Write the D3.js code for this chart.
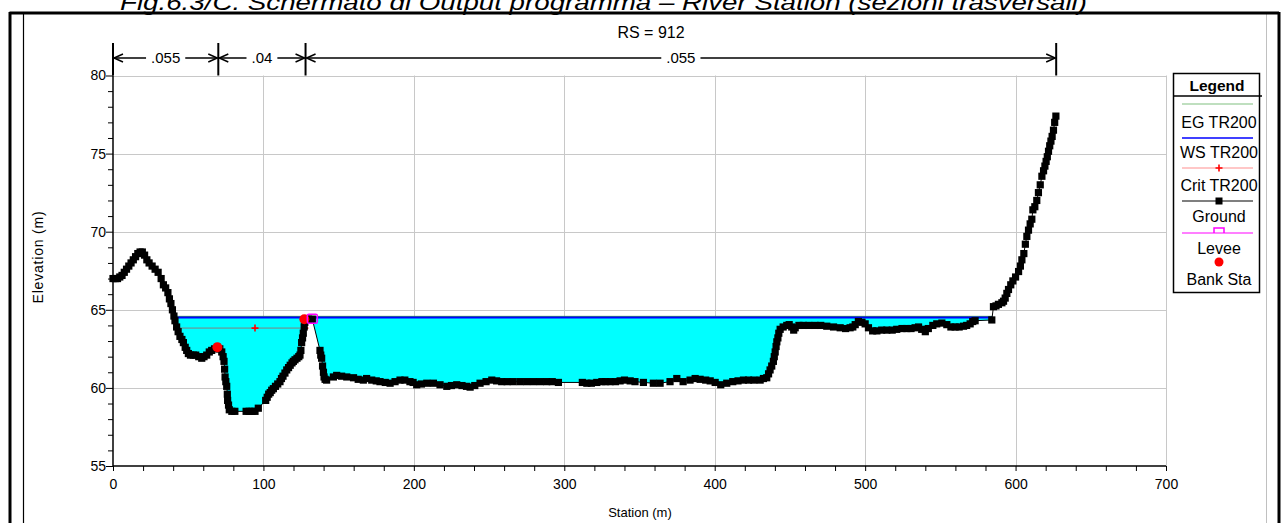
<!DOCTYPE html>
<html><head><meta charset="utf-8">
<script src="https://cdn.jsdelivr.net/npm/d3@7"></script>
<style>
html,body{margin:0;padding:0;background:#fff;}
svg text{font-family:"Liberation Sans",Arial,sans-serif;}
</style></head>
<body>
<svg id="c" width="1283" height="523"></svg>
<script>
// ---- data ----
const groundStation = [0,1.5,3,4.5,6,7.5,9,10.5,12,13.5,15,16.5,18,19.5,21,22.5,24,26,28,30,32,33.5,35,36.5,37.5,38.5,39.5,40.5,41.2,42.3,43.3,44.5,45.8,46.8,48,49,50.1,51.5,53.4,55,57,59,60.5,62.3,64,65.6,67.5,69.4,71,72.3,73.2,73.8,74.2,74.5,75,75.6,76,76.2,76.8,77.3,79,81,88.5,90.5,92.5,94.4,96.6,101.5,102.5,103.5,104.5,105.5,106.6,108,109.5,111,112,113,114.3,115.5,116.7,117.8,119,119.9,121,122.3,123.5,124.3,124.9,125.4,126,126.5,127.1,127.5,128,130,132.5,137.6,138.1,138.7,139.3,139.9,140.3,141,142,146.5,148.7,152,155.4,159.9,163,166.4,168.6,172,175,177.5,181,184.2,187.5,190.8,194,197.4,199.5,201.9,205,208.6,213,217.4,221.9,225,228.5,232,235,237.4,240.5,244,248,251.8,255,258.4,262,266,270.6,275,279.5,284,288.3,292,296.1,312,315,318,321.6,325,327.5,330.5,334,337.1,340,343.8,347,352.6,359.2,363.7,370.3,374.8,379,383.6,387,390.3,394,397,400.3,404,408,412,415.5,419.1,422.5,426,430.2,432.4,434.6,435.8,436.8,437.9,439,439.6,440.2,440.8,441.3,442,442.6,443.5,445.5,447.9,449.5,451.2,452.5,453.5,456,458.9,462.5,466.7,470.5,474.5,479,483.4,487,490,491.8,493.4,495.5,497.9,500,502.2,505,507.8,511,514.4,518,521,524.5,527.7,530.5,533.2,535.5,537.6,540,542,545,547.6,551,554.3,557,559.8,562.5,565.4,567.5,569.8,571.5,573.1,584.2,585.3,587,588.6,590.9,592,593.1,594.2,595.3,596.8,598.2,600,602,603.2,604.2,605.5,606.5,607.5,608.6,609.7,610.8,611.5,612.8,614.1,615.2,616.4,617.5,618.6,619.5,620.3,621.1,621.9,622.7,623.5,624.3,625.2,626,626.8];
const groundElev = [67.0,67.0,67.0,67.1,67.2,67.4,67.6,67.8,68.0,68.2,68.4,68.6,68.7,68.7,68.5,68.2,68.0,67.8,67.6,67.4,67.0,66.6,66.4,66.1,65.7,65.4,65.0,64.6,64.3,63.9,63.6,63.3,63.1,62.9,62.6,62.4,62.2,62.1,62.1,62.1,62.0,61.9,62.0,62.1,62.3,62.4,62.5,62.6,62.5,62.3,62.0,61.7,61.2,60.7,60.4,60.1,59.6,59.2,58.9,58.6,58.5,58.5,58.5,58.5,58.5,58.5,58.7,59.2,59.4,59.6,59.7,59.85,59.95,60.1,60.25,60.4,60.6,60.75,60.95,61.15,61.3,61.45,61.6,61.7,61.8,61.9,62.0,62.1,62.4,62.9,63.2,63.5,63.9,64.2,64.4,64.4,64.4,62.4,62.1,61.9,61.4,61.0,60.7,60.55,60.5,60.7,60.8,60.75,60.7,60.65,60.55,60.5,60.6,60.5,60.45,60.4,60.35,60.3,60.4,60.5,60.5,60.4,60.35,60.2,60.25,60.3,60.3,60.2,60.1,60.15,60.2,60.15,60.1,60.05,60.15,60.3,60.4,60.5,60.45,60.4,60.4,60.4,60.4,60.4,60.4,60.4,60.4,60.4,60.35,60.35,60.3,60.3,60.35,60.4,60.4,60.4,60.4,60.45,60.5,60.45,60.4,60.35,60.3,60.3,60.4,60.6,60.4,60.5,60.6,60.55,60.5,60.45,60.35,60.2,60.3,60.4,60.45,60.5,60.5,60.5,60.5,60.6,60.65,60.9,61.15,61.4,61.7,62.0,62.3,62.65,62.95,63.2,63.5,63.75,63.9,64.0,64.05,63.9,63.7,63.85,64.0,64.0,64.0,64.0,64.0,63.95,63.9,63.85,63.8,63.85,63.9,64.05,64.25,64.2,64.1,63.85,63.65,63.65,63.7,63.7,63.7,63.75,63.8,63.8,63.8,63.85,63.9,63.75,63.6,63.8,64.0,64.1,64.15,64.05,63.9,63.9,63.9,63.95,64.0,64.1,64.25,64.3,64.35,65.2,65.25,65.35,65.45,65.55,65.75,66.05,66.3,66.6,66.85,67.1,67.45,67.8,68.2,68.6,69.2,69.7,70.1,70.5,70.8,71.4,71.6,72.0,72.5,73.0,73.55,73.9,74.2,74.5,74.8,75.15,75.5,75.8,76.1,76.5,77.0,77.4,77.8];
const wsElev = 64.5;          // WS TR200
const egElev = 64.58;         // EG TR200
const critStations = [42.3, 94.4, 127.5];
const critElev = 63.83;       // Crit TR200
const bankStations = [69.4, 127.2];
const bankElevs = [62.6, 64.4];
const leveeStations = [132.5];
const leveeElevs = [64.4];
const nBreaks = [0, 70, 128, 627];
const nValues = [".055", ".04", ".055"];
const xTicks = [0,100,200,300,400,500,600,700];
const yTicks = [55,60,65,70,75,80];
const legendLabels = ["EG TR200","WS TR200","Crit TR200","Ground","Levee","Bank Sta"];
const titleText = "Fig.6.3/C. Schermato di Output programma \u2013 River Station (sezioni trasversali)";
const rsLabel = "RS = 912";

// ---- drawing ----
const svg = d3.select("#c");
const x = d3.scaleLinear().domain([0,700]).range([113,1166]);
const y = d3.scaleLinear().domain([55,80]).range([466,75.5]);
const ground = groundStation.map((s,i)=>({s, e: groundElev[i]}));

// title (partially clipped at top)
svg.append("text").attr("x",120).attr("y",10).attr("font-size",22).attr("font-style","italic")
  .attr("textLength",967).attr("lengthAdjust","spacingAndGlyphs").text(titleText);

// frame
svg.append("line").attr("x1",23.5).attr("x2",23.5).attr("y1",13).attr("y2",523).attr("stroke","#000").attr("stroke-width",1.2);
svg.append("line").attr("x1",1266.5).attr("x2",1266.5).attr("y1",14).attr("y2",523).attr("stroke","#c0c0c0").attr("stroke-width",1);
svg.append("line").attr("x1",9.5).attr("x2",1279).attr("y1",13).attr("y2",13).attr("stroke","#000").attr("stroke-width",3);
svg.append("line").attr("x1",10).attr("x2",10).attr("y1",12).attr("y2",523).attr("stroke","#000").attr("stroke-width",3);
svg.append("line").attr("x1",1279).attr("x2",1279).attr("y1",12).attr("y2",523).attr("stroke","#000").attr("stroke-width",3);

// grid
const grid = svg.append("g").attr("stroke","#c8c8c8").attr("stroke-width",1);
xTicks.filter(d=>d>0).forEach(d=>grid.append("line").attr("x1",Math.round(x(d))+0.5).attr("x2",Math.round(x(d))+0.5).attr("y1",y(80)).attr("y2",y(55)));
yTicks.filter(d=>d>55).forEach(d=>grid.append("line").attr("x1",x(0)).attr("x2",x(700)).attr("y1",Math.round(y(d))+0.5).attr("y2",Math.round(y(d))+0.5));

// water fill
function crossing(a,b,lvl){ const t=(lvl-a.e)/(b.e-a.e); return a.s + t*(b.s-a.s); }
let iL = ground.findIndex((p,i)=> i>0 && ground[i-1].e>=wsElev && p.e<wsElev);
let iR = -1;
for (let i=ground.length-1;i>0;i--){ if(ground[i].e>=wsElev && ground[i-1].e<wsElev){ iR=i; break; } }
const sL = crossing(ground[iL-1],ground[iL],wsElev);
const sR = crossing(ground[iR-1],ground[iR],wsElev);
const fillPts = [{s:sL,e:wsElev}].concat(ground.slice(iL,iR)).concat([{s:sR,e:wsElev}]);
svg.append("path").datum(fillPts)
  .attr("d", d3.area().x(d=>x(d.s)).y0(d=>y(Math.min(d.e,wsElev))).y1(()=>y(wsElev)))
  .attr("fill","#00ffff");

// EG and WS lines
svg.append("line").attr("x1",x(sL)).attr("x2",x(sR)).attr("y1",y(egElev)).attr("y2",y(egElev)).attr("stroke","#30a030").attr("stroke-width",1);
svg.append("line").attr("x1",x(sL)).attr("x2",x(sR)).attr("y1",y(wsElev)).attr("y2",y(wsElev)).attr("stroke","#0000ff").attr("stroke-width",2);

// crit
svg.append("line").attr("x1",x(critStations[0])).attr("x2",x(critStations[critStations.length-1]))
  .attr("y1",y(critElev)).attr("y2",y(critElev)).attr("stroke","#ff0000").attr("stroke-opacity",0.5).attr("stroke-width",1);
function plus(g,cx,cy,sz){
  g.append("path").attr("d",`M${cx-sz},${cy}H${cx+sz}M${cx},${cy-sz}V${cy+sz}`).attr("stroke","#ff0000").attr("stroke-width",1.6).attr("fill","none");
}
critStations.forEach(s=>plus(svg,x(s),y(critElev),3.5));

// ground
svg.append("path").datum(ground).attr("d",d3.line().x(d=>x(d.s)).y(d=>y(d.e)))
  .attr("fill","none").attr("stroke","#000").attr("stroke-width",1);
svg.append("g").selectAll("rect").data(ground).join("rect")
  .attr("x",d=>x(d.s)-3.6).attr("y",d=>y(d.e)-3.6).attr("width",7.2).attr("height",7.2).attr("fill","#000");

// bank stations
svg.append("g").selectAll("circle").data(bankStations).join("circle")
  .attr("cx",d=>x(d)).attr("cy",(d,i)=>y(bankElevs[i])).attr("r",5).attr("fill","#ff0000");
// levee
leveeStations.forEach((s,i)=>{
  svg.append("rect").attr("x",x(s)-5).attr("y",y(leveeElevs[i])-5).attr("width",10).attr("height",9).attr("rx",1.5)
    .attr("fill","none").attr("stroke","#ff00ff").attr("stroke-width",1.5);
});

// axes
const fs = 14;
const xAxis = svg.append("g").attr("transform",`translate(0,${y(55)})`)
  .call(d3.axisBottom(x).tickValues(d3.range(0,701,20)).tickSize(5).tickFormat(d=>xTicks.includes(d)?d:""));
xAxis.select(".domain").attr("stroke","#000").attr("stroke-width",1.5).attr("d",`M${x(0)},0H${x(700)}`);
xAxis.selectAll("text").attr("font-size",fs).attr("font-family","Liberation Sans, Arial").attr("dy","1.05em").attr("fill","#000");
xAxis.selectAll(".tick line").attr("stroke","#000");
const yAxis = svg.append("g").attr("transform",`translate(${x(0)},0)`)
  .call(d3.axisLeft(y).tickValues(d3.range(55,80.5,1)).tickSize(5).tickFormat(d=>yTicks.includes(d)?d:""));
yAxis.select(".domain").attr("stroke","#000").attr("stroke-width",1.5).attr("d",`M0,${y(55)}V${y(80)}`);
yAxis.selectAll("text").attr("font-size",fs).attr("font-family","Liberation Sans, Arial").attr("x",-7).attr("fill","#000");
yAxis.selectAll(".tick line").attr("stroke","#000").attr("x2",(d)=>yTicks.includes(d)?-7:-5);

svg.append("text").attr("x",640).attr("y",517).attr("text-anchor","middle").attr("font-size",13).text("Station (m)");
svg.append("text").attr("transform","translate(43,257) rotate(-90)").attr("text-anchor","middle").attr("font-size",14)
  .attr("letter-spacing",0.8).text("Elevation (m)");

// RS label
svg.append("text").attr("x",651).attr("y",38).attr("text-anchor","middle").attr("font-size",16).text(rsLabel);

// Manning's n bars
const ny = 58;
nBreaks.forEach(s=>{
  svg.append("line").attr("x1",x(s)).attr("x2",x(s)).attr("y1",43).attr("y2",y(80)).attr("stroke","#000").attr("stroke-width",2);
});
function arrowHead(g,tx,dir){ // dir -1 points left, +1 points right
  g.append("path").attr("d",`M${tx-dir*9},${ny-4}L${tx},${ny}L${tx-dir*9},${ny+4}`).attr("fill","none").attr("stroke","#000").attr("stroke-width",1.5);
}
nValues.forEach((v,i)=>{
  const a = x(nBreaks[i]), b = x(nBreaks[i+1]), m = (a+b)/2;
  const t = svg.append("text").attr("x",m).attr("y",ny+5).attr("text-anchor","middle").attr("font-size",15).text(v);
  const w = t.node().getComputedTextLength();
  svg.append("line").attr("x1",a+1).attr("x2",m-w/2-5).attr("y1",ny).attr("y2",ny).attr("stroke","#000").attr("stroke-width",1.5);
  svg.append("line").attr("x1",m+w/2+5).attr("x2",b-1).attr("y1",ny).attr("y2",ny).attr("stroke","#000").attr("stroke-width",1.5);
  arrowHead(svg,a+1,-1); arrowHead(svg,b-1,1);
});

// legend
const lg = svg.append("g");
lg.append("rect").attr("x",1173.5).attr("y",73.5).attr("width",86).attr("height",219).attr("fill","#fff").attr("stroke","#000").attr("stroke-width",1.5);
lg.append("line").attr("x1",1173.5).attr("x2",1262).attr("y1",96).attr("y2",96).attr("stroke","#000").attr("stroke-width",1.5);
lg.append("text").attr("x",1217).attr("y",91).attr("text-anchor","middle").attr("font-size",15.5).attr("font-weight","bold").text("Legend");
const lx1 = 1182, lx2 = 1253, lc = 1219;
const lineYs = [104,138,168,201,233,262];
const labYs = [128,158,191,222,254,285];
const lineCols = ["#80c080","#0000ff","#ff9090","#000","#ff00ff",null];
legendLabels.forEach((lab,i)=>{
  if (lineCols[i]) lg.append("line").attr("x1",lx1).attr("x2",lx2).attr("y1",lineYs[i]).attr("y2",lineYs[i]).attr("stroke",lineCols[i]).attr("stroke-width",i===1?1.5:1.2);
  const t = lg.append("text").attr("x",lc).attr("y",labYs[i]).attr("text-anchor","middle").attr("font-size",16).text(lab);
  const w = t.node().getComputedTextLength();
  if (w > 80) t.attr("textLength",80).attr("lengthAdjust","spacingAndGlyphs");
});
plus(lg,lc,lineYs[2],3.5);
lg.append("rect").attr("x",lc-3.5).attr("y",lineYs[3]-3.5).attr("width",7).attr("height",7).attr("fill","#000");
lg.append("path").attr("d",`M${lc-5},${lineYs[4]}V${lineYs[4]-5}H${lc+5}V${lineYs[4]}`).attr("fill","none").attr("stroke","#ff00ff").attr("stroke-width",1.5);
lg.append("circle").attr("cx",lc).attr("cy",lineYs[5]).attr("r",4.5).attr("fill","#ff0000");
</script>
</body></html>
